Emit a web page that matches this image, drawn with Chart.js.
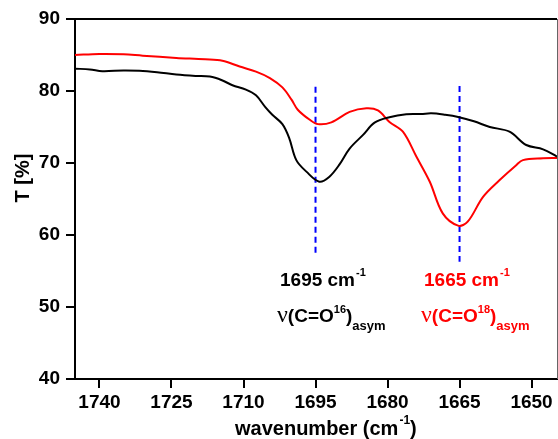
<!DOCTYPE html>
<html>
<head>
<meta charset="utf-8">
<script src="https://cdn.jsdelivr.net/npm/chart.js@4.4.1/dist/chart.umd.min.js"></script>
<style>
  body { margin: 0; background: #fff; }
  canvas { display: block; }
</style>
</head>
<body>
<canvas id="chart" width="558" height="439"></canvas>
<script>
// wavenumber (cm-1) and transmission (%)
const blackWn = [1745.1, 1742, 1739.4, 1735, 1731.7, 1728, 1724, 1720, 1717, 1714.5, 1712.3, 1709.5, 1707.4, 1705.5, 1704, 1701.9, 1700.5, 1699, 1696.9, 1694.2, 1692.1, 1690, 1687.9, 1685.1, 1682.7, 1679.6, 1676.1, 1673, 1670.9, 1668, 1665.3, 1662, 1658.7, 1654.6, 1651.1, 1647.6, 1644.7];
const blackT = [83.1, 83.0, 82.75, 82.85, 82.8, 82.6, 82.3, 82.1, 82.0, 81.5, 80.8, 80.2, 79.4, 77.8, 76.7, 75.4, 73.5, 70.4, 68.8, 67.4, 68.1, 69.8, 72.0, 73.9, 75.6, 76.35, 76.76, 76.8, 76.9, 76.7, 76.4, 75.8, 75.0, 74.35, 72.5, 71.9, 70.9];

const redWn = [1745.1, 1740, 1735, 1731, 1724, 1718, 1714.4, 1710.8, 1707.4, 1704.5, 1701.9, 1700, 1698.7, 1696.2, 1694.5, 1691.7, 1687.9, 1684.4, 1682, 1679.6, 1676.8, 1674, 1671.2, 1668.5, 1665.3, 1663.3, 1660.1, 1656.7, 1653.2, 1651.8, 1647.6, 1644.7];
const redT = [85.0, 85.15, 85.1, 84.9, 84.6, 84.4, 84.2, 83.4, 82.7, 81.8, 80.5, 78.8, 77.4, 76.0, 75.4, 75.65, 77.1, 77.6, 77.3, 75.7, 74.35, 70.9, 67.4, 63.0, 61.3, 61.85, 65.3, 67.6, 69.7, 70.4, 70.65, 70.7];

// dashed marker lines: position, top, bottom
const markWn = [1695, 1665];
const markTop = [80.6, 80.7];
const markBottom = [57.5, 56.3];

const xTicks = [1740, 1725, 1710, 1695, 1680, 1665, 1650];
const yTicks = [40, 50, 60, 70, 80, 90];

const toPoints = (xs, ys) => xs.map((x, i) => ({ x: x, y: ys[i] }));

const sans = '"Liberation Sans", Arial, sans-serif';

// draws a run of text pieces, each with its own font / colour / vertical shift
function drawRich(ctx, x, y, parts, color) {
    ctx.fillStyle = color;
    ctx.textBaseline = 'alphabetic';
    ctx.textAlign = 'left';
    parts.forEach(p => {
        ctx.font = p.font;
        ctx.fillText(p.text, x, y + (p.dy || 0));
        x += ctx.measureText(p.text).width + (p.gap || 0);
    });
}

const labelsPlugin = {
    id: 'labels',
    afterDraw(chart) {
        const ctx = chart.ctx;
        const area = chart.chartArea;
        ctx.save();

        // top and right frame
        ctx.strokeStyle = '#000';
        ctx.lineWidth = 2;
        ctx.beginPath();
        ctx.moveTo(area.left - 1, area.top);
        ctx.lineTo(area.right, area.top);
        ctx.stroke();
        ctx.strokeStyle = '#666';
        ctx.lineWidth = 1;
        ctx.beginPath();
        ctx.moveTo(area.right + 0.5, area.top);
        ctx.lineTo(area.right + 0.5, area.bottom);
        ctx.stroke();

        const big = 'bold 19px ' + sans;
        const sup = 'bold 11px ' + sans;
        const sub = 'bold 13px ' + sans;
        const nu = '24px "Liberation Serif", "Times New Roman", serif';

        drawRich(ctx, 280, 286, [
            { text: '1695 cm', font: big, gap: 1 },
            { text: '-1', font: sup, dy: -10 }
        ], '#000');
        drawRich(ctx, 277, 322, [
            { text: '\u03bd', font: nu },
            { text: '(C=O', font: big },
            { text: '16', font: sup, dy: -9 },
            { text: ')', font: big },
            { text: 'asym', font: sub, dy: 8 }
        ], '#000');

        drawRich(ctx, 424, 286, [
            { text: '1665 cm', font: big, gap: 1 },
            { text: '-1', font: sup, dy: -10 }
        ], '#ff0000');
        drawRich(ctx, 421, 322, [
            { text: '\u03bd', font: nu },
            { text: '(C=O', font: big },
            { text: '18', font: sup, dy: -9 },
            { text: ')', font: big },
            { text: 'asym', font: sub, dy: 8 }
        ], '#ff0000');

        // axis titles
        drawRich(ctx, 235, 435, [
            { text: 'wavenumber (cm', font: 'bold 20px ' + sans, gap: 1 },
            { text: '-1', font: 'bold 12px ' + sans, dy: -11 },
            { text: ')', font: 'bold 20px ' + sans }
        ], '#000');

        ctx.translate(23, 178);
        ctx.rotate(-Math.PI / 2);
        ctx.font = 'bold 20px ' + sans;
        ctx.fillStyle = '#000';
        ctx.textAlign = 'center';
        ctx.textBaseline = 'middle';
        ctx.fillText('T [%]', 0, 0);
        ctx.restore();
    }
};

const markSets = markWn.map((wn, i) => ({
    data: [{ x: wn, y: markTop[i] }, { x: wn, y: markBottom[i] }],
    borderColor: '#0000ff',
    borderWidth: 2,
    borderDash: [6, 4],
    pointRadius: 0,
    showLine: true,
    tension: 0
}));

new Chart(document.getElementById('chart'), {
    type: 'scatter',
    data: {
        datasets: [{
            data: toPoints(blackWn, blackT),
            borderColor: '#000',
            borderWidth: 2,
            pointRadius: 0,
            showLine: true,
            tension: 0.35
        }, {
            data: toPoints(redWn, redT),
            borderColor: '#ff0000',
            borderWidth: 2,
            pointRadius: 0,
            showLine: true,
            tension: 0.35
        }].concat(markSets)
    },
    options: {
        responsive: false,
        animation: false,
        layout: { padding: { top: 19, right: 1, left: 0, bottom: 0 } },
        plugins: {
            legend: { display: false },
            tooltip: { enabled: false }
        },
        scales: {
            x: {
                type: 'linear',
                reverse: true,
                min: 1644.7,
                max: 1745.1,
                afterBuildTicks: s => { s.ticks = xTicks.map(v => ({ value: v })); },
                afterFit: s => { s.height = 60; },
                grid: { drawOnChartArea: false, drawTicks: true, tickLength: 9, color: '#000', lineWidth: 2 },
                border: { display: true, color: '#000', width: 2 },
                ticks: {
                    color: '#000',
                    padding: 3,
                    maxRotation: 0,
                    callback: v => String(v),
                    font: { family: sans, size: 19, weight: 'bold' }
                }
            },
            y: {
                min: 40,
                max: 90,
                afterBuildTicks: s => { s.ticks = yTicks.map(v => ({ value: v })); },
                afterFit: s => { s.width = 75; },
                grid: { drawOnChartArea: false, drawTicks: true, tickLength: 9, color: '#000', lineWidth: 2 },
                border: { display: true, color: '#000', width: 2 },
                ticks: {
                    color: '#000',
                    padding: 6,
                    callback: v => String(v),
                    font: { family: sans, size: 19, weight: 'bold' }
                }
            }
        }
    },
    plugins: [labelsPlugin]
});
</script>
</body>
</html>
